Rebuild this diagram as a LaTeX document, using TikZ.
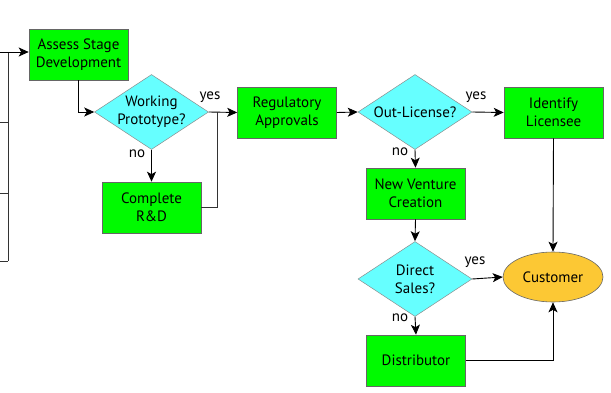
\documentclass[tikz,border=0pt]{standalone}
\usepackage{fontspec}
\setmainfont{PT Sans}
\usetikzlibrary{shapes.geometric, arrows.meta}

\definecolor{stagegreen}{RGB}{0,250,0}
\definecolor{askcyan}{RGB}{102,255,255}
\definecolor{goalorange}{RGB}{252,200,52}

\begin{document}
\begin{tikzpicture}[x=1pt, y=-1pt,
        font=\fontsize{15}{18}\selectfont,
        stage/.style={rectangle, draw=black!60, line width=0.6pt, fill=stagegreen,
            minimum width=99pt, minimum height=51pt, inner sep=0pt, align=center},
        decision/.style={diamond, draw=black!45, line width=0.5pt, fill=askcyan,
            minimum width=114pt, minimum height=75pt, inner sep=0pt},
        goal/.style={ellipse, draw=black!60, line width=0.6pt, fill=goalorange,
            minimum width=100pt, minimum height=50pt, inner sep=0pt},
        flow/.style={draw=black, line width=0.9pt, -{Stealth[length=10pt,width=9pt,inset=2.5pt]}},
        link/.style={draw=black!80, line width=0.9pt},
        answer/.style={inner sep=0pt}]
        \useasboundingbox (0,0) rectangle (611,393);

	\coordinate (feed) at (0,52);
	\coordinate (railtop) at (8,52);
	\coordinate (railbot) at (8,261);
	\coordinate (tapa) at (0,122);
	\coordinate (tapb) at (0,193);
	\coordinate (tapc) at (0,261);
	\coordinate (merge) at (217,112);

	\node[stage] (assess) at (78.5,54.5) {Assess Stage\\Development};
	\node[decision, label={[align=center]center:Working\\Prototype?}] (proto) at (151.5,112) {};
	\node[stage] (rnd) at (151.5,207.5) {Complete\\R\&D};
	\node[stage] (reg) at (287,112.5) {Regulatory\\Approvals};
	\node[decision, label={center:Out-License?}] (outlic) at (415,112) {};
	\node[stage] (ident) at (553.5,112.5) {Identify\\Licensee};
	\node[stage] (venture) at (415.5,193.5) {New Venture\\Creation};
	\node[decision, label={[align=center]center:Direct\\Sales?}] (direct) at (415,279) {};
	\node[goal] (cust) at (553,277) {Customer};
	\node[stage] (distrib) at (416,360.5) {Distributor};

	\node[answer] (yesproto) at (210,97) {yes};
	\node[answer] (noproto) at (137,154) {no};
	\node[answer] (yesout) at (476,97) {yes};
	\node[answer] (noout) at (400,152) {no};
	\node[answer] (yesdirect) at (475,262) {yes};
	\node[answer] (nodirect) at (400,318) {no};

	\draw[link] (railtop) -- (railbot);
	\draw[link] (tapa) -- (tapa -| railtop);
	\draw[link] (tapb) -- (tapb -| railtop);
	\draw[link] (tapc) -- (railbot);
	\draw[flow] (feed) -- (feed -| assess.west);

	\draw[flow] (assess.south) |- (proto.west);
	\draw[flow] (proto.east) -- (reg.west);
	\draw[flow] (proto.south) -- (rnd.north);
	\draw[link] (rnd.east) -| (merge);
	\draw[flow] (reg.east) -- (outlic.west);
	\draw[flow] (outlic.east) -- (ident.west);
	\draw[flow] (outlic.south) -- (venture.north);
	\draw[flow] (venture.south) -- (direct.north);
	\draw[flow] (direct.east) -- (cust.west);
	\draw[flow] (direct.south) -- (distrib.north);
	\draw[flow] (ident.south) -- (cust.north);
	\draw[flow] (distrib.east) -| (cust.south);
    \end{tikzpicture}
\end{document}
